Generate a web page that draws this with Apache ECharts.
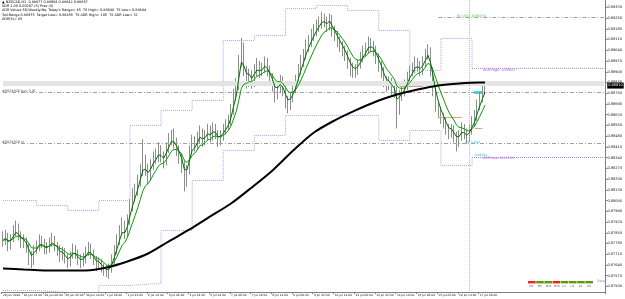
<!DOCTYPE html>
<html><head><meta charset="utf-8">
<script src="https://cdn.jsdelivr.net/npm/echarts@6/dist/echarts.min.js"></script>
<style>html,body{margin:0;padding:0;background:#fff}#c{width:625px;height:299px}</style>
</head><body><div id="c"></div>
<script>
// ---------- DATA ----------
const tickLabels = ['26 Jun 2020','26 Jun 14:00','29 Jun 06:00','29 Jun 22:00','30 Jun 14:00','1 Jul 06:00','1 Jul 22:00','2 Jul 14:00','3 Jul 06:00','3 Jul 22:00','6 Jul 14:00','7 Jul 06:00','7 Jul 22:00','8 Jul 14:00','9 Jul 06:00','9 Jul 22:00','10 Jul 14:00','13 Jul 06:00','13 Jul 22:00','14 Jul 14:00','15 Jul 06:00','15 Jul 22:00','16 Jul 14:00','17 Jul 06:00'];
const priceTicks = [0.8750,0.8757,0.8764,0.8771,0.8778,0.8785,0.8792,0.8799,0.8806,0.8813,0.8820,0.8827,0.8834,0.8841,0.8848,0.8855,0.8862,0.8869,0.8876,0.8883,0.8890,0.8897,0.8904,0.8911,0.8918,0.8925,0.8932];
const firstOpen = 0.8782;
const closes = [
0.8780,0.8783,0.8777,0.8781,0.8785,0.8788,0.8783,0.8779,0.8780,0.8776,
0.8770,0.8766,0.8774,0.8776,0.8780,0.8778,0.8774,0.8775,0.8778,0.8780,
0.8776,0.8774,0.8770,0.8772,0.8768,0.8766,0.8770,0.8774,0.8771,0.8767,
0.8766,0.8768,0.8772,0.8775,0.8771,0.8767,0.8764,0.8766,0.8762,0.8761,
0.8759,0.8762,0.8767,0.8774,0.8780,0.8786,0.8790,0.8785,0.8793,0.8803,
0.8809,0.8813,0.8819,0.8826,0.8832,0.8827,0.8822,0.8829,0.8834,0.8835,
0.8839,0.8835,0.8832,0.8840,0.8845,0.8848,0.8844,0.8839,0.8834,0.8829,
0.8819,0.8826,0.8839,0.8845,0.8842,0.8847,0.8851,0.8845,0.8848,0.8852,
0.8848,0.8853,0.8850,0.8845,0.8848,0.8852,0.8855,0.8858,0.8865,0.8875,
0.8881,0.8897,0.8907,0.8891,0.8884,0.8888,0.8883,0.8891,0.8894,0.8890,
0.8892,0.8896,0.8891,0.8886,0.8881,0.8875,0.8879,0.8884,0.8878,0.8871,
0.8868,0.8873,0.8879,0.8884,0.8891,0.8897,0.8901,0.8907,0.8910,0.8914,
0.8917,0.8920,0.8922,0.8925,0.8923,0.8920,0.8925,0.8917,0.8914,0.8910,
0.8907,0.8904,0.8901,0.8896,0.8892,0.8890,0.8891,0.8895,0.8899,0.8903,
0.8905,0.8909,0.8907,0.8904,0.8899,0.8894,0.8890,0.8884,0.8881,0.8883,
0.8879,0.8877,0.8865,0.8875,0.8878,0.8881,0.8886,0.8890,0.8892,0.8896,
0.8894,0.8891,0.8896,0.8901,0.8904,0.8891,0.8878,0.8868,0.8864,0.8860,
0.8857,0.8853,0.8850,0.8852,0.8848,0.8845,0.8848,0.8853,0.8850,0.8847,
0.8852,0.8857,0.8861,0.8868,0.8873,0.8877,0.8881];
const highs = [
0.8786,0.8787,0.8785,0.8784,0.8790,0.8793,0.8791,0.8786,0.8784,0.8782,
0.8778,0.8773,0.8777,0.8780,0.8784,0.8783,0.8781,0.8779,0.8782,0.8785,
0.8783,0.8779,0.8777,0.8776,0.8775,0.8771,0.8773,0.8778,0.8777,0.8774,
0.8771,0.8772,0.8776,0.8779,0.8778,0.8774,0.8770,0.8769,0.8768,0.8765,
0.8764,0.8765,0.8771,0.8777,0.8784,0.8790,0.8795,0.8793,0.8797,0.8807,
0.8814,0.8817,0.8823,0.8830,0.8846,0.8836,0.8830,0.8833,0.8838,0.8840,
0.8844,0.8842,0.8838,0.8844,0.8850,0.8852,0.8853,0.8847,0.8842,0.8837,
0.8832,0.8829,0.8842,0.8849,0.8848,0.8851,0.8855,0.8853,0.8852,0.8856,
0.8855,0.8857,0.8856,0.8852,0.8852,0.8856,0.8859,0.8862,0.8869,0.8879,
0.8886,0.8901,0.8912,0.8909,0.8894,0.8892,0.8891,0.8895,0.8899,0.8897,
0.8896,0.8900,0.8899,0.8894,0.8889,0.8884,0.8883,0.8888,0.8887,0.8881,
0.8874,0.8877,0.8883,0.8888,0.8895,0.8901,0.8905,0.8911,0.8914,0.8918,
0.8921,0.8924,0.8926,0.8929,0.8928,0.8926,0.8928,0.8927,0.8920,0.8917,
0.8913,0.8910,0.8907,0.8904,0.8899,0.8896,0.8895,0.8898,0.8903,0.8907,
0.8909,0.8913,0.8912,0.8910,0.8907,0.8902,0.8897,0.8893,0.8887,0.8887,
0.8886,0.8882,0.8880,0.8878,0.8882,0.8885,0.8890,0.8894,0.8896,0.8900,
0.8899,0.8897,0.8900,0.8905,0.8908,0.8906,0.8893,0.8881,0.8871,0.8867,
0.8863,0.8860,0.8856,0.8856,0.8855,0.8851,0.8852,0.8857,0.8856,0.8853,
0.8856,0.8861,0.8865,0.8872,0.8877,0.8881,0.8884];
const lows = [
0.8776,0.8777,0.8773,0.8774,0.8779,0.8783,0.8780,0.8775,0.8775,0.8772,
0.8764,0.8762,0.8764,0.8771,0.8773,0.8775,0.8771,0.8771,0.8772,0.8776,
0.8773,0.8770,0.8766,0.8767,0.8765,0.8762,0.8763,0.8768,0.8768,0.8764,
0.8762,0.8763,0.8765,0.8770,0.8768,0.8764,0.8760,0.8761,0.8759,0.8757,
0.8756,0.8755,0.8759,0.8764,0.8771,0.8777,0.8783,0.8781,0.8782,0.8790,
0.8799,0.8805,0.8809,0.8815,0.8822,0.8822,0.8817,0.8819,0.8826,0.8830,
0.8831,0.8831,0.8827,0.8829,0.8837,0.8842,0.8840,0.8835,0.8830,0.8824,
0.8812,0.8815,0.8823,0.8836,0.8838,0.8839,0.8843,0.8841,0.8842,0.8845,
0.8844,0.8845,0.8846,0.8841,0.8842,0.8845,0.8849,0.8852,0.8855,0.8862,
0.8871,0.8878,0.8893,0.8887,0.8879,0.8880,0.8879,0.8880,0.8887,0.8886,
0.8887,0.8889,0.8887,0.8882,0.8877,0.8870,0.8872,0.8876,0.8874,0.8866,
0.8863,0.8865,0.8870,0.8876,0.8881,0.8888,0.8893,0.8898,0.8903,0.8906,
0.8910,0.8913,0.8916,0.8918,0.8919,0.8916,0.8917,0.8913,0.8910,0.8906,
0.8903,0.8900,0.8897,0.8892,0.8887,0.8886,0.8886,0.8888,0.8892,0.8896,
0.8900,0.8902,0.8903,0.8900,0.8895,0.8890,0.8886,0.8880,0.8877,0.8878,
0.8875,0.8873,0.8853,0.8862,0.8871,0.8874,0.8878,0.8882,0.8887,0.8889,
0.8890,0.8887,0.8888,0.8893,0.8898,0.8887,0.8874,0.8864,0.8860,0.8856,
0.8853,0.8849,0.8846,0.8847,0.8844,0.8838,0.8841,0.8845,0.8846,0.8843,
0.8844,0.8849,0.8854,0.8858,0.8865,0.8870,0.8875];
// long moving average (black), sampled bars
const maBars = [0,8,16,24,32,40,48,56,64,72,80,88,96,104,112,120,128,136,144,152,160,168,176,184,186];
const maValues = [0.87618,0.87611,0.87605,0.87605,0.87605,0.87624,0.87663,0.87715,0.87794,0.87872,0.87957,0.88041,0.88146,0.88257,0.88387,0.88504,0.88583,0.88648,0.88706,0.88752,0.88785,0.88811,0.88824,0.88830,0.88830];
// daily ADR range levels
const adrDayStart = [0,13,25,37,49,61,73,85,97,109,121,133,145,157,169,181];
const adrUpper = [0.88061,0.88028,0.87996,0.88061,0.88550,0.88648,0.88713,0.89104,0.89137,0.89313,0.89332,0.89300,0.89169,0.88909,0.89117,0.88922];
const adrLower = [0.87474,0.87461,0.87461,0.87507,0.87520,0.87865,0.88191,0.88387,0.88485,0.88615,0.88615,0.88615,0.88452,0.88517,0.88289,0.88341];
// short open-level segments
const segStart = [153,168,182];
const segEnd = [162,177,185];
const segPrice = [0.88804,0.88602,0.88530];
// horizontal levels
const buyLevel = 0.88765, slLevel = 0.88433, pivotLevel = 0.89254, bandLevel = 0.88824;
const tfNames = ['M1','M5','M15','M30','H1','H4','D1','W1'];
const tfState = ['dn','up','up','dn','up','up','up','up'];

// ---------- BUILD ----------
const N = 233;
const categories = Array.from({length:N}, (_, i) => (i % 8 === 0 && i/8 < tickLabels.length) ? tickLabels[i/8] : '');
const ohlc = closes.map((c, i) => [i === 0 ? firstOpen : closes[i-1], c, lows[i], highs[i]]);
function ema(arr, p) { const a = 2/(p+1); let e = arr[0]; return arr.map(v => (e = e + a*(v - e), +e.toFixed(5))); }
const fast = ema(closes, 3), slow = ema(closes, 8);
function stepData(starts, vals, upto) {
  const d = [];
  for (let i = 0; i < upto; i++) {
    const s = starts[i], e = starts[i+1];
    d.push([s, vals[i]], [e, vals[i]]);
  }
  d.push([starts[upto], vals[upto]]);
  return d;
}
const last = adrDayStart.length - 1;
const lastClose = closes[closes.length-1];
const hline = (v, style, extra) => [Object.assign({xAxis:0, yAxis:v, lineStyle:style}, extra||{}), {xAxis:N-1, yAxis:v}];

const dashDot = [4,2,1,2];
const F = 'DejaVu Sans';
const txt = (x, y, t, c, fs) => ({type:'text', x, y, silent:true, style:{text:t, fill:c||'#000', font: (fs||3.4)+'px "'+F+'"'}});

const graphics = [
  txt(2,0.5,'\u25B2 NZDCAD,H1  0.88877 0.88904 0.88842 0.88857'),
  txt(2,4.8,'ADR 1.00 0.00307 (5) Pred (5)'),
  txt(2,9.1,"ADR Values 5D,Weekly:No, Today's Range= 45  TS High= 0.88944  TS Low= 0.88844"),
  txt(2,13.2,'Tod.Range 0.88975  Target Low= 0.88455  TS ADR High= 105  TS ADR Low= 32'),
  txt(2,17.2,'ADR(5)= 85'),
  txt(2,89.5,'#0024928 buy 0.01','#444'),
  txt(2,140.5,'#0024928 sl','#444'),
  txt(457,15,'R1 (S1): 0.89254','#33dd33'),
  txt(483,69,'ADR High: 0.88922','#9955dd'),
  txt(483,156.5,'ADR Low: 0.88341','#9955dd'),
  txt(465,140.5,'-25.3 pips','#00c8c8',3),
  txt(475,153.5,'0.88341','#00c8c8',3),
  {type:'rect', shape:{x:474,y:91,width:8,height:3}, style:{fill:'#33dddd'}, silent:true},
  txt(597,280,'Trend','#888',3)
];
tfNames.forEach((n, i) => {
  const x = 528 + i*8.2;
  graphics.push({type:'rect', shape:{x, y:281, width:7.6, height:2.4}, style:{fill: tfState[i]==='up' ? '#5e9a00' : '#ff1a1a'}, silent:true});
  graphics.push(txt(x+1.5, 284.6, n, '#555', 2.6));
});

const chart = echarts.init(document.getElementById('c'), null, {renderer:'canvas'});
chart.setOption({
  animation:false,
  backgroundColor:'#ffffff',
  grid:{left:0, right:16, top:0, bottom:7, containLabel:false},
  xAxis:{type:'category', data:categories, boundaryGap:true,
    axisLine:{show:true, lineStyle:{color:'#808080', width:1}},
    axisTick:{show:true, length:2, interval:(i, v) => v !== '', lineStyle:{color:'#808080'}},
    axisLabel:{interval:(i, v) => v !== '', align:'left', fontSize:2.9, color:'#111', margin:2, fontFamily:F},
    splitLine:{show:false}},
  yAxis:{type:'value', position:'right', min:0.87464, max:0.89368,
    axisLine:{show:true, lineStyle:{color:'#808080', width:1}},
    axisTick:{show:true, length:2, customValues:priceTicks, lineStyle:{color:'#808080'}},
    axisLabel:{customValues:priceTicks, formatter:v => v.toFixed(5), fontSize:3.5, color:'#111', margin:2, fontFamily:F},
    splitLine:{show:false}},
  graphic: graphics,
  series:[
    {type:'line', data:[], z:1, silent:true,
      markLine:{silent:true, symbol:'none', animation:false, label:{show:false},
        data:[
          hline(bandLevel, {color:'#e4e4e4', width:5, type:'solid'}),
          hline(buyLevel, {color:'#a0a0a0', width:1, type:dashDot}),
          hline(slLevel, {color:'#a0a0a0', width:1, type:dashDot}),
          [{xAxis:168, yAxis:pivotLevel, lineStyle:{color:'#a0a0a0', width:1, type:dashDot}}, {xAxis:N-1, yAxis:pivotLevel}],
          [{xAxis:180, yAxis:0.89368, lineStyle:{color:'#b8b8b8', width:1, type:'dotted'}}, {xAxis:180, yAxis:0.87464}]
        ]}},
    {type:'line', data:stepData(adrDayStart, adrUpper, last), showSymbol:false, silent:true, z:2,
      lineStyle:{color:'#a6a6f2', width:1, type:'dotted'}},
    {type:'line', data:stepData(adrDayStart, adrLower, last), showSymbol:false, silent:true, z:2,
      lineStyle:{color:'#a6a6f2', width:1, type:'dotted'}},
    {type:'line', data:[[adrDayStart[last], adrUpper[last]],[N-1, adrUpper[last]]], showSymbol:false, silent:true, z:2,
      lineStyle:{color:'#b57ae8', width:1, type:'dotted'}},
    {type:'line', data:[[adrDayStart[last], adrLower[last]],[N-1, adrLower[last]]], showSymbol:false, silent:true, z:2,
      lineStyle:{color:'#b57ae8', width:1, type:'dotted'}},
    {type:'line', data:[], z:3, silent:true,
      markLine:{silent:true, symbol:'none', animation:false, label:{show:false},
        lineStyle:{color:'#e0a080', width:1, type:'solid'},
        data: segStart.map((s, i) => [{xAxis:s, yAxis:segPrice[i]}, {xAxis:segEnd[i], yAxis:segPrice[i]}])}},
    {type:'candlestick', data:ohlc, barWidth:1.2, z:4, silent:true,
      itemStyle:{color:'#9a9a9a', color0:'#9a9a9a', borderColor:'#8c8c8c', borderColor0:'#8c8c8c', borderWidth:1}},
    {type:'line', data:slow, showSymbol:false, silent:true, z:5, lineStyle:{color:'#00a000', width:1}},
    {type:'line', data:fast, showSymbol:false, silent:true, z:5, lineStyle:{color:'#006e00', width:1}},
    {type:'line', data:maBars.map((b, i) => [b, maValues[i]]), smooth:0.3, showSymbol:false, silent:true, z:6,
      lineStyle:{color:'#000000', width:2}},
    {type:'line', data:[], z:7, silent:true,
      markLine:{silent:true, symbol:'none', animation:false,
        data:[hline(lastClose, {color:'rgba(0,0,0,0)', width:0},
          {label:{show:true, position:'end', distance:3, formatter:lastClose.toFixed(5), color:'#fff', backgroundColor:'#000', fontSize:3.5, padding:[1,1], fontFamily:F}})]}}
  ]
});
</script></body></html>
